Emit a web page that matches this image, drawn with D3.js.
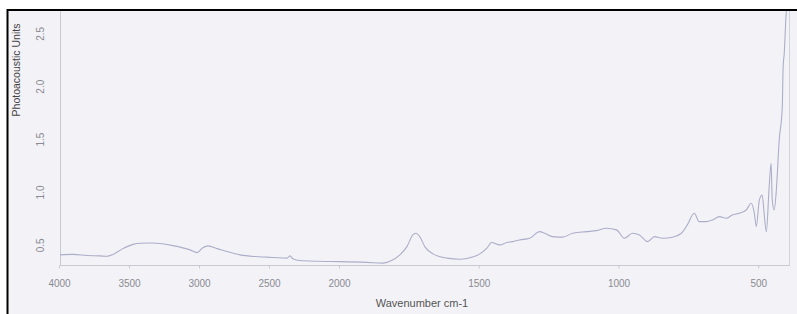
<!DOCTYPE html>
<html><head><meta charset="utf-8">
<script src="https://cdn.jsdelivr.net/npm/d3@7"></script>
<style>body{margin:0;background:#fff}svg{display:block}</style>
</head><body><svg id="c" width="797" height="314"></svg>
<script>
const wavenumbers = [3995,3900,3800,3707,3657,3614,3550,3471,3421,3350,3300,3186,3064,3014,2975,2936,2870,2800,2707,2600,2514,2400,2371,2350,2330,2279,2150,2000,1900,1843,1818,1782,1757,1736,1725,1711,1693,1664,1614,1568,1543,1496,1471,1454,1425,1400,1379,1354,1318,1282,1264,1236,1200,1164,1114,1079,1043,1007,979,950,925,896,871,843,807,775,754,729,711,686,664,639,614,593,568,543,525,514,507,496,486,479,471,461,454,450,443,436,425,414,411,407,400,397];
const units = [0.406,0.41,0.40,0.396,0.392,0.41,0.46,0.505,0.516,0.518,0.515,0.493,0.453,0.427,0.47,0.491,0.465,0.437,0.406,0.39,0.384,0.376,0.375,0.396,0.37,0.352,0.345,0.342,0.335,0.328,0.345,0.406,0.484,0.594,0.610,0.578,0.484,0.415,0.375,0.365,0.371,0.415,0.469,0.522,0.50,0.522,0.531,0.547,0.563,0.625,0.610,0.578,0.573,0.610,0.625,0.635,0.658,0.642,0.563,0.610,0.594,0.531,0.578,0.563,0.573,0.610,0.689,0.799,0.720,0.720,0.736,0.767,0.752,0.783,0.799,0.830,0.893,0.799,0.673,0.925,0.972,0.799,0.625,1.050,1.271,0.925,0.830,0.991,1.491,1.805,2.182,2.311,2.689,2.75];
const xTicks = [4000,3500,3000,2500,2000,1500,1000,500];
const xTickLabels = ["4000","3500","3000","2500","2000","1500","1000","500"];
const yTicks = [0.5,1.0,1.5,2.0,2.5];
const yTickLabels = ["0.5","1.0","1.5","2.0","2.5"];
const xTitle = "Wavenumber cm-1";
const yTitle = "Photoacoustic Units";

const svg = d3.select("#c");
const L=60, R=789, T=10, B=265;
const x = d3.scaleLinear().domain([4000,2000,390]).range([59,339,789]);
const y = d3.scaleLinear().domain([0.31,2.72]).range([B,T]);

svg.append("rect").attr("x",7).attr("y",9).attr("width",790).attr("height",305).attr("fill","#f3f3f7");
svg.append("line").attr("x1",7).attr("x2",797).attr("y1",10).attr("y2",10).attr("stroke","#000").attr("stroke-width",2);
svg.append("line").attr("x1",7.5).attr("x2",7.5).attr("y1",9).attr("y2",314).attr("stroke","#000").attr("stroke-width",2);

svg.append("defs").append("clipPath").attr("id","clip").append("rect")
  .attr("x",L).attr("y",T+1).attr("width",R-L).attr("height",B-T-1);

svg.append("line").attr("x1",L+0.5).attr("x2",L+0.5).attr("y1",T+1).attr("y2",B).attr("stroke","#c9c9d2");
svg.append("line").attr("x1",R+0.5).attr("x2",R+0.5).attr("y1",T+1).attr("y2",B).attr("stroke","#d2d2da");

const gx = svg.append("g").attr("transform",`translate(0,${B+0.5})`)
  .call(d3.axisBottom(x).tickValues(xTicks).tickFormat((d,i)=>xTickLabels[i]).tickSize(3).tickPadding(11));
gx.select(".domain").attr("stroke","#c9c9d2").attr("d",`M${L},0H${R+1}`);
gx.selectAll(".tick line").attr("stroke","#c9c9d2");
gx.selectAll(".tick text").attr("fill","#8a8a92").style("font-family","Liberation Sans, Arial, sans-serif").style("font-size","10px");

const gy = svg.append("g").attr("transform",`translate(${L+0.5},0)`)
  .call(d3.axisLeft(y).tickValues(yTicks).tickFormat((d,i)=>yTickLabels[i]).tickSize(0).tickPadding(0));
gy.select(".domain").remove();
gy.selectAll(".tick text").remove();
gy.selectAll(".tick").append("text").attr("transform","translate(-20,0) rotate(-90)")
  .attr("text-anchor","middle").attr("dy","0.35em").attr("fill","#8a8a92")
  .style("font-family","Liberation Sans, Arial, sans-serif").style("font-size","10px")
  .text((d,i)=>yTickLabels[i]);

const data = wavenumbers.map((w,i)=>({w,v:units[i]}));
svg.append("path").datum(data).attr("clip-path","url(#clip)")
  .attr("fill","none").attr("stroke","#adadc9").attr("stroke-width",1.1).attr("stroke-linejoin","round")
  .attr("d", d3.line().x(d=>x(d.w)).y(d=>y(d.v)).curve(d3.curveMonotoneX));

svg.append("text").attr("x",422).attr("y",307).attr("text-anchor","middle")
  .attr("fill","#555").style("font-family","Liberation Sans, Arial, sans-serif").style("font-size","11px").text(xTitle);
svg.append("text").attr("transform","translate(20,70) rotate(-90)").attr("text-anchor","middle")
  .attr("fill","#444").style("font-family","Liberation Sans, Arial, sans-serif").style("font-size","10.5px").text(yTitle);
</script></body></html>
